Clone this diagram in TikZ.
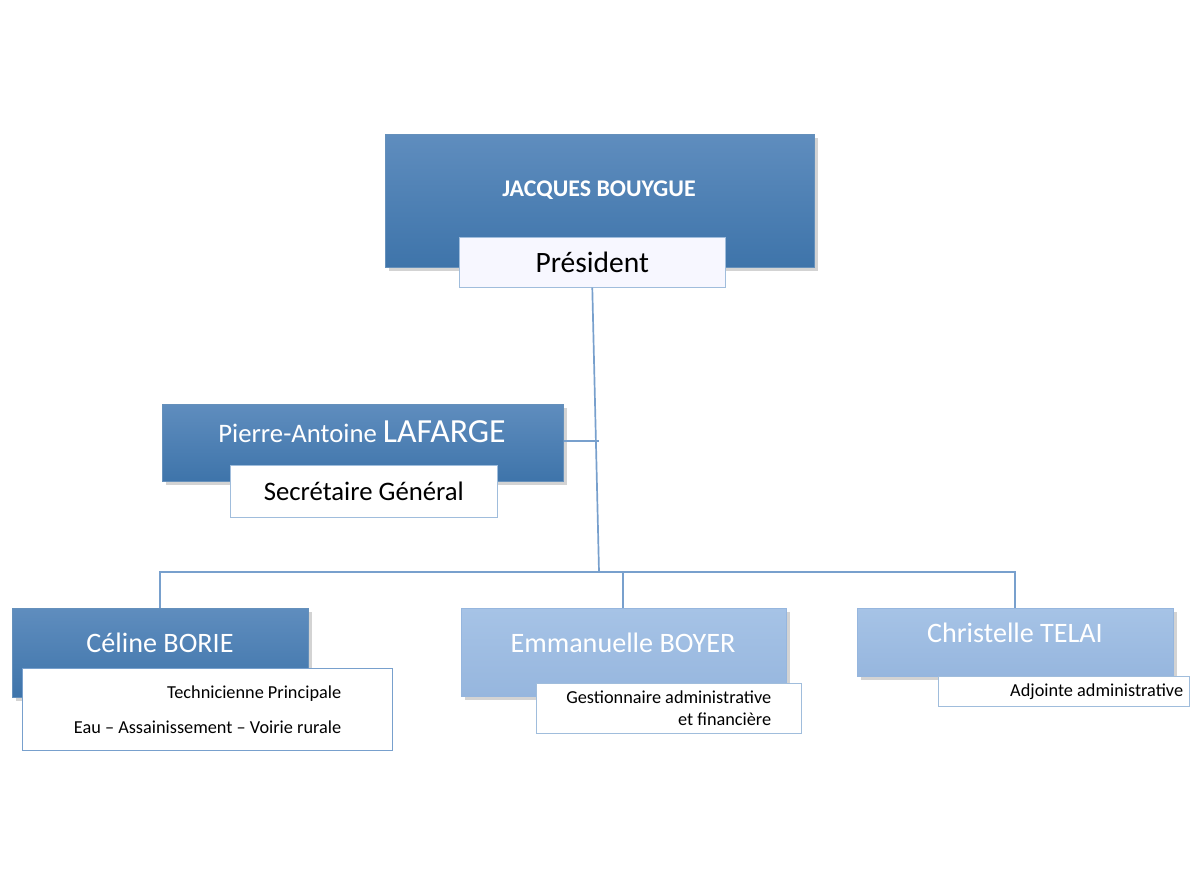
\documentclass[tikz,border=0pt]{standalone}
\usepackage{fontspec}
\setmainfont{Carlito}
\usetikzlibrary{positioning,shadows}
\definecolor{bluedark}{RGB}{62,116,170}
\definecolor{bluetop}{RGB}{95,141,190}
\definecolor{bluelite}{RGB}{150,182,222}
\definecolor{bluelitetop}{RGB}{166,195,230}
\definecolor{linecol}{RGB}{120,160,205}
\tikzstyle{namebox} = [rectangle, top color=bluetop, bottom color=bluedark,
    draw=bluedark!80, drop shadow={opacity=0.35}, text=white, anchor=north west]
\tikzstyle{litebox} = [rectangle, top color=bluelitetop, bottom color=bluelite,
    draw=bluelite, drop shadow={opacity=0.35}, text=white, anchor=north west]
\tikzstyle{rolebox} = [rectangle, fill=white, draw=linecol!70, anchor=north west]
\tikzstyle{link} = [draw=linecol, line width=1.2pt]
\tikzset{bx/.style 2 args={minimum width=#1*0.025cm, minimum height=#2*0.025cm}}

\begin{document}
\begin{tikzpicture}[x=0.025cm, y=-0.025cm, inner sep=0pt]
\useasboundingbox (0,0) rectangle (1200,895);
% president
\node [namebox, bx={429}{133}] (pres) at (385,134) {};
\node [text=white, font=\bfseries\fontsize{17}{20}\selectfont] at (599,190) {JACQUES BOUYGUE};
\node [rolebox, fill=blue!3, bx={266}{50}, font=\fontsize{21}{24}\selectfont] (presr) at (459,237) {Président};
% secretaire
\node [namebox, bx={401}{77}] (sec) at (162,404) {};
\node [text=white, font=\fontsize{19}{22}\selectfont] at (362,432) {Pierre-Antoine {\fontsize{24}{26}\selectfont LAFARGE}};
\node [rolebox, bx={267}{52}, font=\fontsize{19}{22}\selectfont] (secr) at (230,465) {Secrétaire Général};
% agents
\node [namebox, bx={296}{89}] (cel) at (12,608) {};
\node [text=white, font=\fontsize{20}{24}\selectfont] at (160,643) {Céline BORIE};
\node [rolebox, draw=linecol, line width=0.8pt, bx={370}{82}, align=right,
    font=\fontsize{13}{25}\selectfont] (celr) at (22,668) {Technicienne Principale\\Eau -- Assainissement -- Voirie rurale};
\node [litebox, bx={325}{88}] (emm) at (461,608) {};
\node [text=white, font=\fontsize{20}{24}\selectfont] at (623,643) {Emmanuelle BOYER};
\node [rolebox, bx={265}{50}, align=right,
    font=\fontsize{13}{16}\selectfont] (emmr) at (536,683) {Gestionnaire administrative\\et financière};
\node [litebox, bx={316}{68}] (chr) at (857,608) {};
\node [text=white, font=\fontsize{20}{24}\selectfont] at (1015,633) {Christelle TELAI};
\node [rolebox, bx={251}{30}, align=right,
    font=\fontsize{13}{16}\selectfont] (chrr) at (938,676) {\hspace{3.6em}Adjointe administrative};
% connectors
\coordinate (hub) at (599,572);
\coordinate (sj) at (599,441);
\coordinate (celtop) at (160,608);
\coordinate (emmtop) at (623,608);
\coordinate (chrtop) at (1015,608);
\draw [link] (presr.south) -- (hub);
\draw [link] (sec.east |- sj) -- (sj);
\draw [link] (celtop) |- (hub) -| (chrtop);
\draw [link] (emmtop) -- (emmtop |- hub);
\end{tikzpicture}
\end{document}
